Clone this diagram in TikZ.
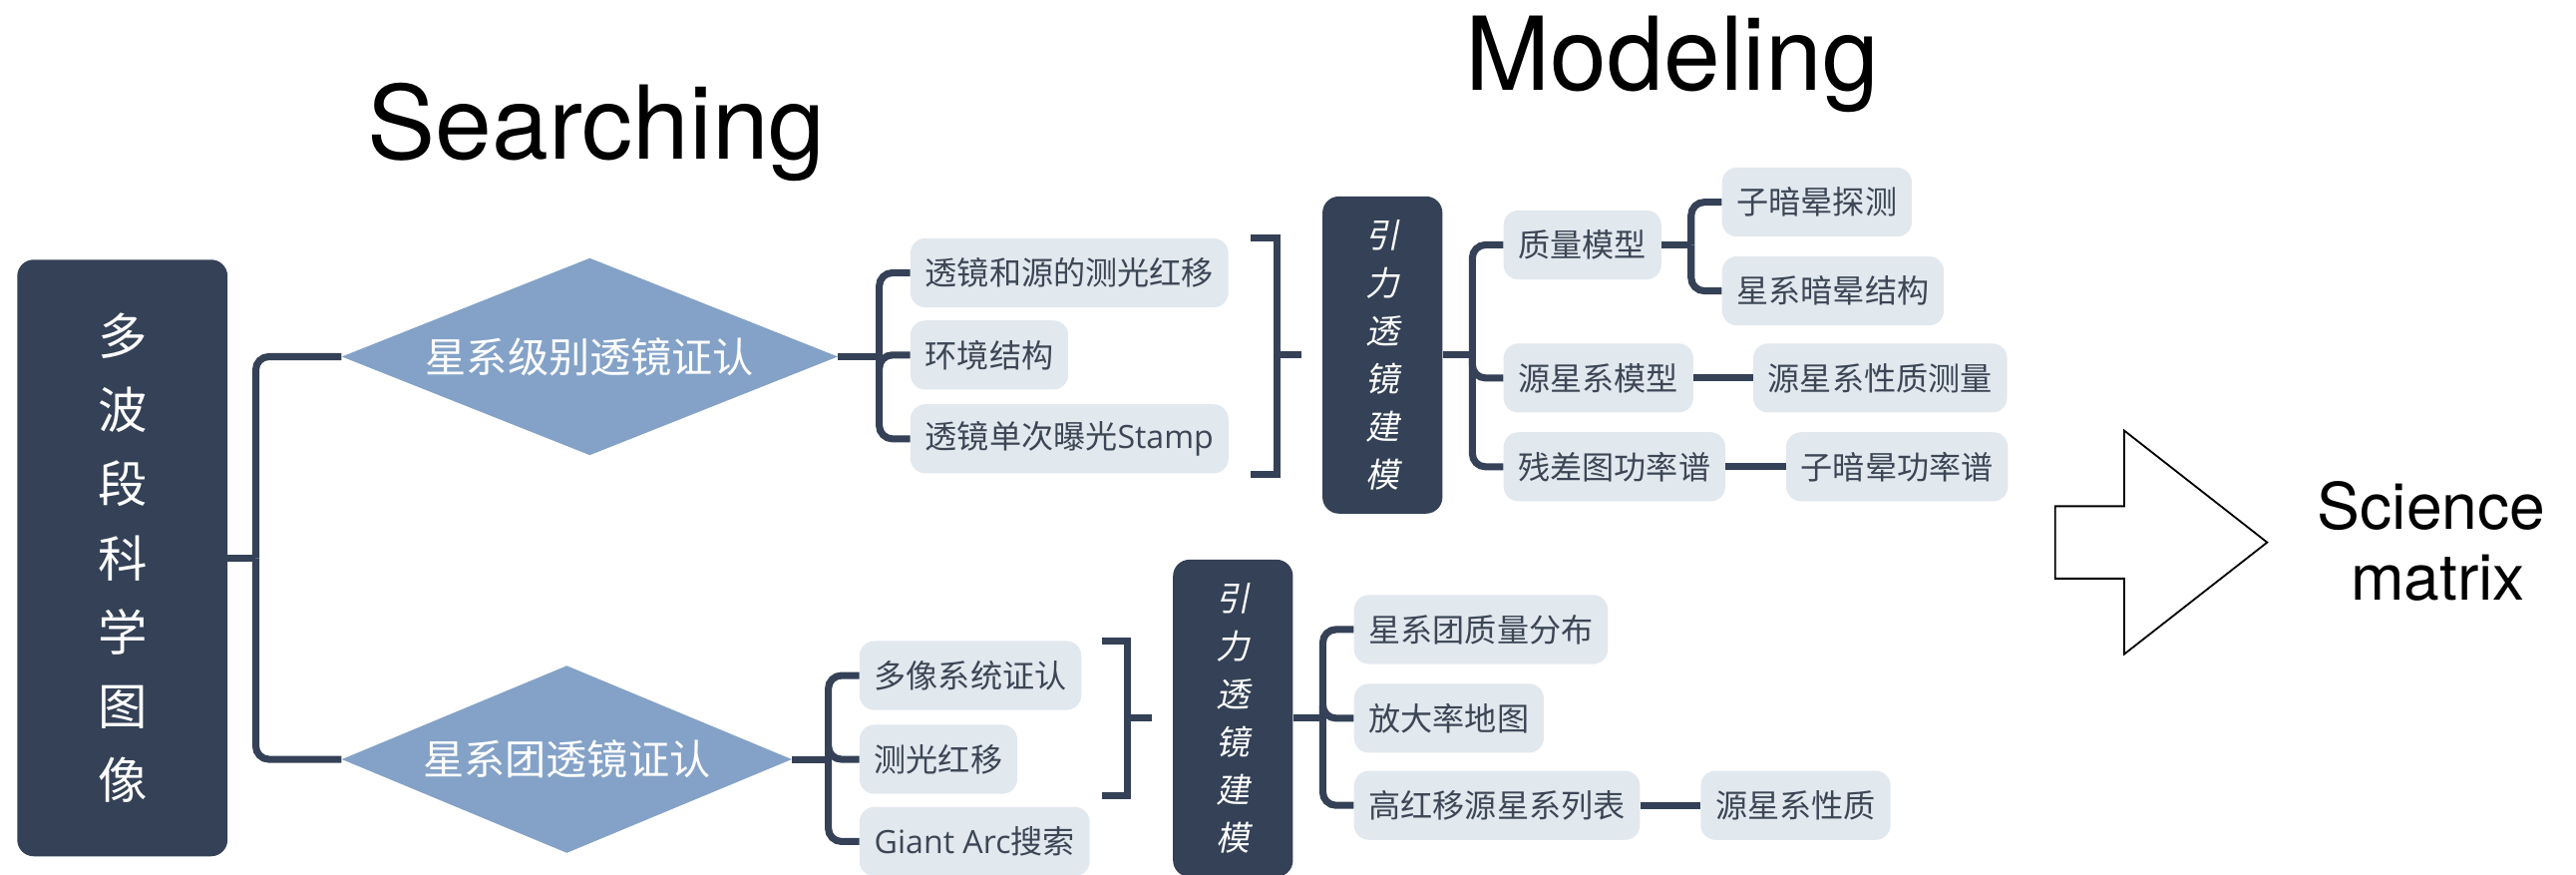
\documentclass[tikz,border=0pt]{standalone}
\usepackage{fontspec}
\newfontfamily\cjk{Noto Sans CJK SC}
\newfontfamily\cjkit{Noto Sans CJK SC}[FakeSlant=0.2]
\newfontfamily\lat{Open Sans}
\newfontfamily\heros{TeX Gyre Heros}
\usetikzlibrary{shapes.geometric,calc}
\definecolor{navy}{RGB}{52,65,86}
\definecolor{steel}{RGB}{132,162,199}
\definecolor{pale}{RGB}{225,232,238}
\definecolor{ink}{RGB}{60,70,85}
\begin{document}
\begin{tikzpicture}[x=1pt,y=-1pt,
  rootbox/.style={fill=navy, rounded corners=10pt, text=white, align=center,
    font=\cjk\fontsize{30}{45}\selectfont, minimum width=128pt, minimum height=363pt, inner sep=0pt},
  modbox/.style={fill=navy, rounded corners=10pt, text=white, align=center,
    font=\cjkit\fontsize{20.5}{29.2}\selectfont, minimum width=73pt, minimum height=193pt, inner sep=0pt},
  diam/.style={diamond, fill=steel, text=white, inner sep=0pt, aspect=2.5,
    font=\cjk\fontsize{25}{25}\selectfont},
  leaf/.style={fill=pale, rounded corners=9pt, text=ink, anchor=west,
    font=\cjk\fontsize{19.5}{19.5}\selectfont, minimum height=42pt, inner xsep=9pt, inner ysep=0pt},
  conn/.style={draw=navy, line width=4.3pt},
  rconn/.style={conn, rounded corners=8pt},
  title/.style={anchor=base, text=black, font=\heros\fontsize{62}{62}\selectfont},
  sci/.style={anchor=base, text=black, font=\heros\fontsize{39}{39}\selectfont}]
\useasboundingbox (0,0) rectangle (1568,532);

% titles
\node[title] (tsearch) at (363,97) {Searching};
\node[title] (tmodel) at (1018,55) {Modeling};

% root
\node[rootbox] (root) at (74.5,339.5) {多\\波\\段\\科\\学\\图\\像};

% diamonds
\node[diam, minimum width=302pt, minimum height=120pt] (d1) at (359,217) {星系级别透镜证认};
\node[diam, minimum width=274pt, minimum height=114pt] (d2) at (345,462) {星系团透镜证认};

\draw[conn] (root.east) -- ++(17,0) coordinate (j0);
\draw[rconn] (j0) |- (d1.west);
\draw[rconn] (j0) |- (d2.west);

% group 1 list
\node[leaf] (l11) at (554,166) {透镜和源的测光红移};
\node[leaf] (l12) at (554,216) {环境结构};
\node[leaf] (l13) at (554,267) {透镜单次曝光{\lat Stamp}};
\draw[conn] (d1.east) -- ++(25,0) coordinate (j1);
\draw[rconn] (j1) |- (l11.west);
\draw[rconn] (j1) |- (l12.west);
\draw[rconn] (j1) |- (l13.west);
\draw[conn] (761,145) -- (777.5,145) -- (777.5,288.5) -- (761,288.5);
\draw[conn] (777.5,216) -- (792,216);

% modeling 1
\node[modbox] (m1) at (841.5,216) {引\\力\\透\\镜\\建\\模};
\node[leaf] (q1) at (915,149) {质量模型};
\node[leaf] (q2) at (915,230) {源星系模型};
\node[leaf] (q3) at (915,284) {残差图功率谱};
\draw[conn] (m1.east) -- ++(18,0) coordinate (j2);
\draw[rconn] (j2) |- (q1.west);
\draw[rconn] (j2) |- (q2.west);
\draw[rconn] (j2) |- (q3.west);

\node[leaf] (s1) at (1048,123) {子暗晕探测};
\node[leaf] (s2) at (1048,177) {星系暗晕结构};
\node[leaf] (s3) at (1067,230) {源星系性质测量};
\node[leaf] (s4) at (1087,284) {子暗晕功率谱};
\draw[conn] (q1.east) -- ++(18,0) coordinate (j3);
\draw[rconn] (j3) |- (s1.west);
\draw[rconn] (j3) |- (s2.west);
\draw[conn] (q2.east) -- (s3.west);
\draw[conn] (q3.east) -- (s4.west);

% group 2 list
\node[leaf] (t1) at (523,411) {多像系统证认};
\node[leaf] (t2) at (523,462) {测光红移};
\node[leaf] (t3) at (523,512) {{\lat Giant Arc}搜索};
\draw[conn] (d2.east) -- ++(22,0) coordinate (j4);
\draw[rconn] (j4) |- (t1.west);
\draw[rconn] (j4) |- (t2.west);
\draw[rconn] (j4) |- (t3.west);
\draw[conn] (671,390) -- (686,390) -- (686,484) -- (671,484);
\draw[conn] (686,437) -- (701,437);

% modeling 2
\node[modbox] (m2) at (750.5,437) {引\\力\\透\\镜\\建\\模};
\node[leaf] (u1) at (824,383) {星系团质量分布};
\node[leaf] (u2) at (824,437) {放大率地图};
\node[leaf] (u3) at (824,490) {高红移源星系列表};
\node[leaf] (u4) at (1035,490) {源星系性质};
\draw[conn] (m2.east) -- ++(18,0) coordinate (j5);
\draw[rconn] (j5) |- (u1.west);
\draw[rconn] (j5) |- (u2.west);
\draw[rconn] (j5) |- (u3.west);
\draw[conn] (u3.east) -- (u4.west);

% big arrow
\draw[line width=1.1pt, fill=white, line join=miter]
  (1251,308) -- (1293,308) -- (1293,262) -- (1380,330) -- (1293,398) -- (1293,352) -- (1251,352) -- cycle;
\node[sci] (sci1) at (1480,322) {Science};
\node[sci] (sci2) at (1484,365) {matrix};
\end{tikzpicture}
\end{document}
